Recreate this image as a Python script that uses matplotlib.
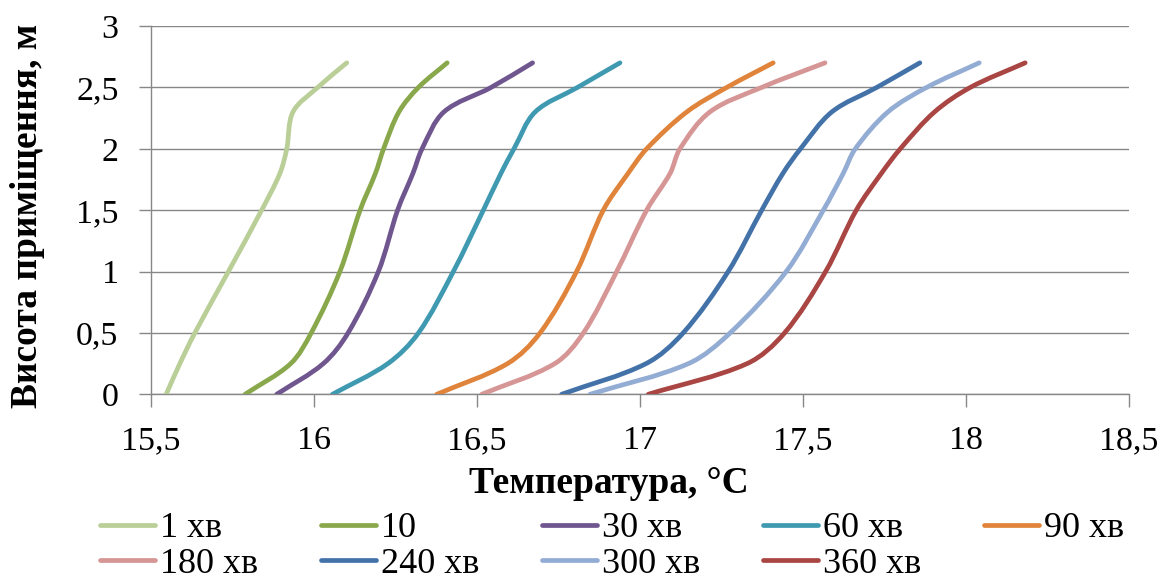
import matplotlib
matplotlib.use("Agg")
import matplotlib.pyplot as plt
from matplotlib.path import Path
from matplotlib.patches import PathPatch
from matplotlib.lines import Line2D
import numpy as np

plt.rcParams['font.family'] = ['Liberation Serif', 'DejaVu Serif']

# Room height levels, m
heights = [0.0, 0.25, 0.5, 1.0, 1.5, 1.8, 2.0, 2.3, 2.5, 2.7]

# Air temperature at each height, °C
t_1 = [15.548, 15.590, 15.636, 15.739, 15.841, 15.897, 15.918, 15.937, 16.013, 16.102]
t_10 = [15.790, 15.930, 15.993, 16.081, 16.143, 16.190, 16.215, 16.262, 16.322, 16.410]
t_30 = [15.887, 16.030, 16.106, 16.199, 16.258, 16.305, 16.333, 16.400, 16.545, 16.672]
t_60 = [16.058, 16.228, 16.322, 16.429, 16.521, 16.575, 16.615, 16.680, 16.810, 16.940]
t_90 = [16.378, 16.595, 16.695, 16.807, 16.889, 16.965, 17.022, 17.145, 17.268, 17.410]
t_180 = [16.516, 16.740, 16.828, 16.930, 17.022, 17.094, 17.124, 17.216, 17.375, 17.569]
t_240 = [16.761, 17.020, 17.134, 17.272, 17.375, 17.440, 17.494, 17.590, 17.728, 17.860]
t_300 = [16.848, 17.150, 17.278, 17.450, 17.564, 17.625, 17.662, 17.762, 17.881, 18.042]
t_360 = [17.027, 17.330, 17.445, 17.571, 17.665, 17.742, 17.800, 17.905, 18.015, 18.183]

series_labels = ['1 хв', '10', '30 хв', '60 хв', '90 хв',
                 '180 хв', '240 хв', '300 хв', '360 хв']
series_values = [t_1, t_10, t_30, t_60, t_90, t_180, t_240, t_300, t_360]
series_colors = ['#B9CF97', '#89A84B', '#70568F', '#3F9AB1', '#DF843A',
                 '#D69695', '#4372A9', '#93ACD3', '#A94542']

x_ticks = [15.5, 16, 16.5, 17, 17.5, 18, 18.5]
x_tick_labels = ['15,5', '16', '16,5', '17', '17,5', '18', '18,5']
y_ticks = [0, 0.5, 1, 1.5, 2, 2.5, 3]
y_tick_labels = ['0', '0,5', '1', '1,5', '2', '2,5', '3']

GRID = '#878787'
# screen pixels per data unit along each axis, used to weight the smoothing
PX_X, PX_Y = 326.0, 122.7


def smooth_path(xs, ys):
    """Cubic Bezier path through the points with chord-length tangents."""
    p = np.column_stack([np.asarray(xs) * PX_X, np.asarray(ys) * PX_Y])
    n = len(p)
    d = np.linalg.norm(np.diff(p, axis=0), axis=1)
    tang = np.zeros_like(p)
    for i in range(n):
        if i == 0:
            tang[i] = (p[1] - p[0]) / d[0]
        elif i == n - 1:
            tang[i] = (p[-1] - p[-2]) / d[-1]
        else:
            tang[i] = (p[i + 1] - p[i - 1]) / (d[i - 1] + d[i])
    verts = [p[0]]
    codes = [Path.MOVETO]
    for i in range(n - 1):
        c1 = p[i] + tang[i] * d[i] / 3.0
        c2 = p[i + 1] - tang[i + 1] * d[i] / 3.0
        verts += [c1, c2, p[i + 1]]
        codes += [Path.CURVE4] * 3
    verts = np.array(verts) / np.array([PX_X, PX_Y])
    return Path(verts, codes)


fig = plt.figure(figsize=(11.63, 5.80), dpi=100)
ax = fig.add_axes([150.5 / 1163, 1 - 394.3 / 580, 978 / 1163, 368.3 / 580])

handles = []
for vals, col, lab in zip(series_values, series_colors, series_labels):
    patch = PathPatch(smooth_path(vals, heights), facecolor='none',
                      edgecolor=col, lw=3.4, capstyle='round',
                      joinstyle='round', zorder=3)
    ax.add_patch(patch)
    handles.append(Line2D([], [], color=col, lw=3.4, solid_capstyle='round',
                          label=lab))

ax.set_xlim(15.5, 18.5)
ax.set_ylim(0, 3)
ax.set_xticks(x_ticks)
ax.set_xticklabels(x_tick_labels)
ax.set_yticks(y_ticks)
ax.set_yticklabels(y_tick_labels)

ax.grid(axis='y', color=GRID, lw=1.0, zorder=1)
ax.set_axisbelow(True)
for s in ['top', 'right']:
    ax.spines[s].set_visible(False)
for s in ['left', 'bottom']:
    ax.spines[s].set_color(GRID)
    ax.spines[s].set_linewidth(1.0)

ax.tick_params(axis='both', direction='out', length=9, width=1.0,
               color=GRID, labelsize=24.5, labelcolor='black')
ax.tick_params(axis='x', pad=13.5)
ax.tick_params(axis='y', pad=14)

fig.text(609 / 1163, 1 - 492.7 / 580, 'Температура, °C', ha='center',
         va='baseline', fontsize=27, fontweight='bold')
fig.text(28 / 1163, 1 - 216 / 580, 'Висота приміщення, м', ha='center',
         va='center', rotation=90, fontsize=27, fontweight='bold')

# Legend laid out row by row in five columns
order = [0, 5, 1, 6, 2, 7, 3, 8, 4]
leg = fig.legend([handles[i] for i in order], [series_labels[i] for i in order],
                 ncol=5, loc='upper left',
                 bbox_to_anchor=(100 / 1163, 1 - 512 / 580),
                 frameon=False, fontsize=26, borderpad=0, borderaxespad=0,
                 handlelength=1.53, handletextpad=0.14, columnspacing=1.73,
                 labelspacing=0.06)

fig.savefig('out.png', dpi=100)
